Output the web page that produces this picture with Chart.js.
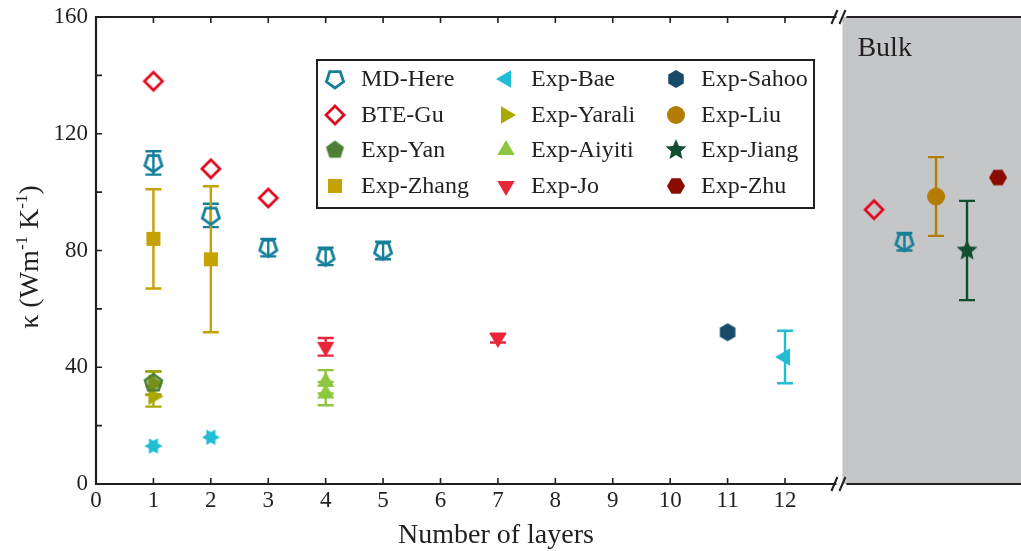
<!DOCTYPE html>
<html><head><meta charset="utf-8">
<script src="https://cdn.jsdelivr.net/npm/chart.js@4"></script>
<style>html,body{margin:0;padding:0;background:#fff}#wrap{width:1021px;height:551px}</style>
</head><body><div id="wrap"><canvas id="c" width="1021" height="551"></canvas></div>
<script>
// ---- data ----
const seriesNames = ['MD-Here','BTE-Gu','Exp-Yan','Exp-Zhang','Exp-Bae','Exp-Yarali','Exp-Aiyiti','Exp-Jo','Exp-Sahoo','Exp-Liu','Exp-Jiang','Exp-Zhu'];
const xTickLabels = [0,1,2,3,4,5,6,7,8,9,10,11,12];
const yTickLabels = [0,40,80,120,160];
const bulkX = [13.55, 14.08, 14.63, 15.17, 15.71];
const mdX = [1,2,3,4,5,bulkX[1]],   mdY = [110,92,81,78,80,83],  mdErr = [4,4,3,3,3,3];
const guX = [1,2,3,bulkX[0]],       guY = [138,108,98,94];
const yanX = [1],                   yanY = [34.6],               yanErr = [4];
const zhangX = [1,2],               zhangY = [84,77],            zhangErr = [17,25];
const baeX = [1,2,12],              baeY = [13,16,43.5],         baeErr = [0,0,9];
const yaraliX = [1,1],              yaraliY = [34.5,30],         yaraliErr = [4,3.5];
const aiyitiX = [4,4],              aiyitiY = [35,31],           aiyitiErr = [4,4];
const joX = [4,7],                  joY = [47,50],               joErr = [3,1.5];
const sahooX = [11],                sahooY = [52];
const liuX = [bulkX[2]],            liuY = [98.5],               liuErr = [13.5];
const jiangX = [bulkX[3]],          jiangY = [80],               jiangErr = [17];
const zhuX = [bulkX[4]],            zhuY = [105];

// ---- marker images ----
function poly(ctx, cx, cy, r, n, rot){
  ctx.beginPath();
  for(let i=0;i<n;i++){const a=rot+i*2*Math.PI/n; const px=cx+r*Math.cos(a), py=cy+r*Math.sin(a); i?ctx.lineTo(px,py):ctx.moveTo(px,py);}
  ctx.closePath();
}
function marker(shape, r, fill, stroke, lw){
  const s = Math.ceil(2*r + 2*lw + 4);
  const cv = document.createElement('canvas'); cv.width=s; cv.height=s;
  const ctx = cv.getContext('2d'); const c=s/2;
  ctx.lineJoin='miter';
  const up=-Math.PI/2;
  switch(shape){
    case 'pentDown': poly(ctx,c,c,r,5,Math.PI/2); break;
    case 'pent': poly(ctx,c,c,r,5,up); break;
    case 'diamond': poly(ctx,c,c,r,4,up); break;
    case 'square': ctx.beginPath(); ctx.rect(c-r,c-r,2*r,2*r); break;
    case 'triLeft': poly(ctx,c,c,r,3,Math.PI); break;
    case 'triRight': poly(ctx,c,c,r,3,0); break;
    case 'triUp': poly(ctx,c,c,r,3,up); break;
    case 'triDown': poly(ctx,c,c,r,3,Math.PI/2); break;
    case 'hexPt': poly(ctx,c,c,r,6,up); break;
    case 'hexFlat': poly(ctx,c,c,r,6,0); break;
    case 'circle': ctx.beginPath(); ctx.arc(c,c,r,0,2*Math.PI); break;
    case 'star':
      ctx.beginPath();
      for(let i=0;i<10;i++){const a=up+i*Math.PI/5; const rr=i%2?r*0.45:r; const px=c+rr*Math.cos(a), py=c+rr*Math.sin(a); i?ctx.lineTo(px,py):ctx.moveTo(px,py);}
      ctx.closePath(); break;
    case 'hexagram':
      poly(ctx,c,c,r,3,Math.PI); if(fill){ctx.fillStyle=fill;ctx.fill();}
      poly(ctx,c,c,r,3,0); break;
  }
  if(fill){ctx.fillStyle=fill; ctx.fill();}
  if(stroke){ctx.strokeStyle=stroke; ctx.lineWidth=lw; ctx.stroke();}
  return cv;
}
const C = {
  md:'#177f98', gu:'#e2071c', yan:'#4c7e33', zhang:'#c6a200', bae:'#20bdd3', yarali:'#a9a700',
  aiyiti:'#8dc63f', jo:'#e8263a', sahoo:'#184b69', liu:'#b27c05', jiang:'#0f4e2f', zhu:'#8a0c00'
};
const M = {
  md: marker('pentDown',9,null,C.md,2.8),
  gu: marker('diamond',9,null,C.gu,2.7),
  yan: marker('pent',9,'rgba(76,126,51,0.55)',C.yan,2.4),
  yanLeg: marker('pent',9.5,C.yan,null,0),
  zhang: marker('square',7,C.zhang,null,0),
  bae: marker('triLeft',10,C.bae,null,0),
  baeBlob: marker('hexagram',9,C.bae,null,0),
  yarali: marker('triRight',10,C.yarali,null,0),
  aiyiti: marker('triUp',10,C.aiyiti,null,0),
  jo: marker('triDown',10,C.jo,null,0),
  sahoo: marker('hexPt',9,C.sahoo,null,0),
  liu: marker('circle',9,C.liu,null,0),
  jiang: marker('star',11,C.jiang,null,0),
  zhu: marker('hexFlat',9,C.zhu,null,0)
};
function pts(xs,ys,errs){return xs.map((x,i)=>({x:x,y:ys[i],e:errs?errs[i]:0}));}
function ds(label,key,xs,ys,errs,styles,legKey){
  return {label:label,data:pts(xs,ys,errs),pointStyle:styles||M[key],legendImg:M[legKey||key],
    errColor:C[key],showLine:false,pointRadius:9,pointHoverRadius:9,backgroundColor:C[key],borderColor:C[key]};
}
const datasets = [
  ds(seriesNames[0],'md',mdX,mdY,mdErr),
  ds(seriesNames[1],'gu',guX,guY,null),
  ds(seriesNames[2],'yan',yanX,yanY,yanErr,null,'yanLeg'),
  ds(seriesNames[3],'zhang',zhangX,zhangY,zhangErr),
  ds(seriesNames[4],'bae',baeX,baeY,baeErr,[M.baeBlob,M.baeBlob,M.bae]),
  ds(seriesNames[5],'yarali',yaraliX,yaraliY,yaraliErr),
  ds(seriesNames[6],'aiyiti',aiyitiX,aiyitiY,aiyitiErr),
  ds(seriesNames[7],'jo',joX,joY,joErr),
  ds(seriesNames[8],'sahoo',sahooX,sahooY,null),
  ds(seriesNames[9],'liu',liuX,liuY,liuErr),
  ds(seriesNames[10],'jiang',jiangX,jiangY,jiangErr),
  ds(seriesNames[11],'zhu',zhuX,zhuY,null)
];

const SERIF = '"Liberation Serif","Times New Roman",serif';
const TXT = '#231f20';
const BREAK = 13.0;

const decor = {
  id:'decor',
  beforeDatasetsDraw(chart){
    const {ctx, chartArea:a, scales:{x,y}} = chart;
    ctx.save();
    const bx = x.getPixelForValue(BREAK);
    ctx.fillStyle='#c5c6c8'; ctx.fillRect(bx, a.top, a.right-bx, a.bottom-a.top);
    ctx.fillStyle=TXT; ctx.font='28px '+SERIF; ctx.textBaseline='middle'; ctx.textAlign='left';
    ctx.fillText('Bulk', bx+15, a.top+32);
    chart.data.datasets.forEach(d=>{
      ctx.strokeStyle=d.errColor; ctx.lineWidth=2.4;
      d.data.forEach(p=>{
        if(!p.e) return;
        const px=x.getPixelForValue(p.x), y1=y.getPixelForValue(p.y+p.e), y2=y.getPixelForValue(p.y-p.e);
        ctx.beginPath(); ctx.moveTo(px,y1); ctx.lineTo(px,y2);
        ctx.moveTo(px-8,y1); ctx.lineTo(px+8,y1); ctx.moveTo(px-8,y2); ctx.lineTo(px+8,y2); ctx.stroke();
      });
    });
    ctx.restore();
  },
  afterDatasetsDraw(chart){
    const {ctx, chartArea:a, scales:{x,y}} = chart;
    ctx.save();
    const bx = x.getPixelForValue(BREAK);
    ctx.strokeStyle='#231f20'; ctx.lineWidth=2.2; ctx.lineCap='butt';
    ctx.beginPath();
    ctx.moveTo(a.left, a.top-1.1); ctx.lineTo(a.left, a.bottom+1.1);
    ctx.moveTo(a.left, a.bottom); ctx.lineTo(bx-6, a.bottom); ctx.moveTo(bx+4, a.bottom); ctx.lineTo(a.right, a.bottom);
    ctx.moveTo(a.left, a.top); ctx.lineTo(bx-6, a.top); ctx.moveTo(bx+4, a.top); ctx.lineTo(a.right, a.top);
    ctx.stroke();
    ctx.lineWidth=2;
    [a.top, a.bottom].forEach(yy=>{
      ctx.beginPath();
      ctx.moveTo(bx-11, yy+7); ctx.lineTo(bx-5, yy-7);
      ctx.moveTo(bx-3, yy+7); ctx.lineTo(bx+3, yy-7);
      ctx.stroke();
    });
    ctx.lineWidth=1.6;
    ctx.beginPath();
    xTickLabels.forEach(v=>{
      const px=x.getPixelForValue(v);
      if(v>0){ctx.moveTo(px,a.bottom); ctx.lineTo(px,a.bottom-6); ctx.moveTo(px,a.top); ctx.lineTo(px,a.top+6);}
    });
    for(let v=20; v<160; v+=20){
      const py=y.getPixelForValue(v); ctx.moveTo(a.left,py); ctx.lineTo(a.left+6,py);
    }
    ctx.stroke();
    ctx.fillStyle=TXT; ctx.textBaseline='alphabetic'; ctx.textAlign='left';
    const parts=[['κ (Wm',28,0],['-1',17,-11],[' K',28,0],['-1',17,-11],[')',28,0]];
    let w=0; parts.forEach(p=>{ctx.font=p[1]+'px '+SERIF; w+=ctx.measureText(p[0]).width;});
    ctx.translate(38, 257); ctx.rotate(-Math.PI/2);
    let cx=-w/2;
    parts.forEach(p=>{ctx.font=p[1]+'px '+SERIF; ctx.fillText(p[0],cx,p[2]); cx+=ctx.measureText(p[0]).width;});
    ctx.restore();
    ctx.save();
    ctx.fillStyle=TXT; ctx.font='28px '+SERIF; ctx.textAlign='center'; ctx.textBaseline='middle';
    ctx.fillText('Number of layers', x.getPixelForValue(7)-2, 536);
    ctx.restore();
    ctx.save();
    ctx.strokeStyle='#231f20'; ctx.lineWidth=2;
    ctx.fillStyle='#fff'; ctx.fillRect(317,60,497,148); ctx.strokeRect(317,60,497,148);
    ctx.font='24px '+SERIF; ctx.fillStyle=TXT; ctx.textBaseline='middle'; ctx.textAlign='left';
    const colMx=[335,506,676], colTx=[361,531,701], rowY=[79,115,150,186];
    chart.data.datasets.forEach((d,i)=>{
      const col=Math.floor(i/4), row=i%4, img=d.legendImg;
      ctx.drawImage(img, colMx[col]-img.width/2, rowY[row]-img.height/2);
      ctx.fillText(d.label, colTx[col], rowY[row]+1);
    });
    ctx.restore();
  }
};

new Chart(document.getElementById('c'), {
  type:'scatter',
  data:{datasets:datasets},
  options:{
    responsive:false, animation:false, devicePixelRatio:1,
    layout:{autoPadding:false, padding:{top:17,right:0,left:0,bottom:0}},
    plugins:{legend:{display:false}, tooltip:{enabled:false}},
    scales:{
      x:{type:'linear', min:0, max:16.11,
        afterBuildTicks:s=>{s.ticks = xTickLabels.map(v=>({value:v}));},
        afterFit:s=>{s.height=67; s.paddingLeft=0; s.paddingRight=0;},
        grid:{display:false, drawTicks:false}, border:{display:false},
        ticks:{font:{family:SERIF,size:23}, color:TXT, padding:3, maxRotation:0, autoSkip:false}
      },
      y:{type:'linear', min:0, max:160,
        afterBuildTicks:s=>{s.ticks = yTickLabels.map(v=>({value:v}));},
        afterFit:s=>{s.width=96; s.paddingTop=0; s.paddingBottom=0;},
        grid:{display:false, drawTicks:false}, border:{display:false},
        ticks:{font:{family:SERIF,size:23}, color:TXT, padding:8}
      }
    }
  },
  plugins:[decor]
});
</script></body></html>
